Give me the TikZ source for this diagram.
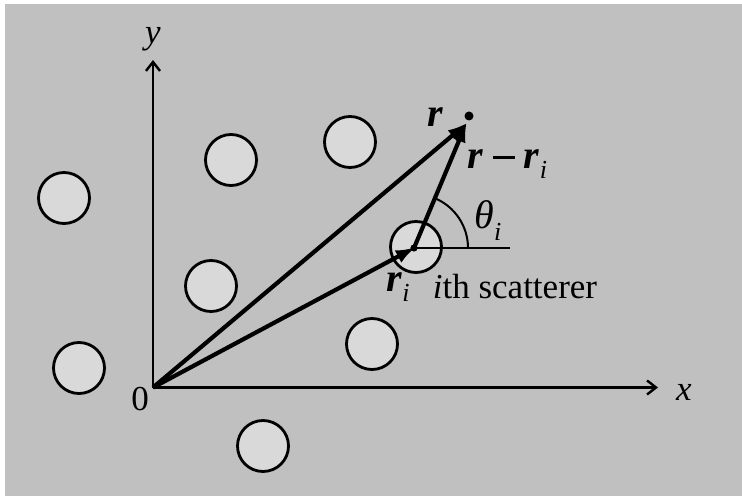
\documentclass[tikz,border=0pt]{standalone}
\usepackage{fontspec}
\setmainfont{Liberation Serif}
\usetikzlibrary{arrows.meta}
\definecolor{bg}{RGB}{192,192,192}
\definecolor{cfill}{RGB}{217,217,217}
\newcommand\mysub[1]{\raisebox{-0.3em}{\fontsize{26}{26}\selectfont\textit{#1}}}
\newcommand\bvec{{\fontsize{40}{40}\selectfont\textbf{\textit{r}}}}
\newcommand\myminus{\hspace{10pt}\rule[9.5pt]{22pt}{2.2pt}\hspace{9pt}}
\begin{document}
\begin{tikzpicture}[x=1pt,y=1pt,
  scat/.style={circle,draw=black,line width=2.8pt,fill=cfill,minimum size=51pt,inner sep=0pt},
  axisline/.style={line width=2.4pt,-{Straight Barb[length=9pt,width=14pt,line width=2.4pt]}},
  vec/.style={line width=4.2pt,-{Latex[length=20pt,width=14pt]},shorten >=-2pt},
  thinline/.style={line width=2pt},
  lab/.style={font=\fontsize{35}{40}\selectfont,inner sep=0pt}]
\useasboundingbox (0,0) rectangle (742,496);
\fill[bg] (5,0) rectangle (742,492);
% axes
\coordinate (O) at (153,108.5);
\coordinate (ytip) at (153,436);
\coordinate (xtip) at (658,108.5);
\draw[axisline] (O) -- (ytip);
\draw[axisline] (O) -- (xtip);
% scatterers
\node[scat] (c1) at (64,298) {};
\node[scat] (c2) at (231,336) {};
\node[scat] (c3) at (211,210) {};
\node[scat] (c4) at (79,128) {};
\node[scat] (c5) at (263,50) {};
\node[scat] (c6) at (350,354) {};
\node[scat] (c7) at (372,152) {};
\node[scat] (si) at (416,249) {};
% points
\coordinate (ci) at (414,248);
\coordinate (P) at (469,380);
\coordinate (Pt) at (466,372);
\coordinate (hend) at (510,248);
\draw[thinline] (ci) -- (hend);
\draw[thinline] ([xshift=54pt]ci) arc (0:67:54);
\draw[vec] (O) -- (Pt);
\draw[vec] (O) -- (ci);
\draw[vec] (ci) -- (Pt);
\fill (ci) circle (3.6);
\fill (P) circle (4.5);
% labels
\node[lab] (ly) at (153,457) {\textit{y}};
\node[lab] (lx) at (684,104) {\textit{x}};
\node[lab] (l0) at (140,97) {0};
\node[lab] (lr) at (435,379) {\bvec};
\node[lab] (lrr) at (507,332) {\bvec\myminus\bvec\mysub{i}};
\node[lab,font=\fontsize{40}{44}\selectfont] (lth) at (488,275) {\textit{θ}\mysub{i}};
\node[lab] (lri) at (398,209) {\bvec\mysub{i}};
\node[lab] (lsc) at (515,209) {\textit{i}th scatterer};
\end{tikzpicture}
\end{document}
